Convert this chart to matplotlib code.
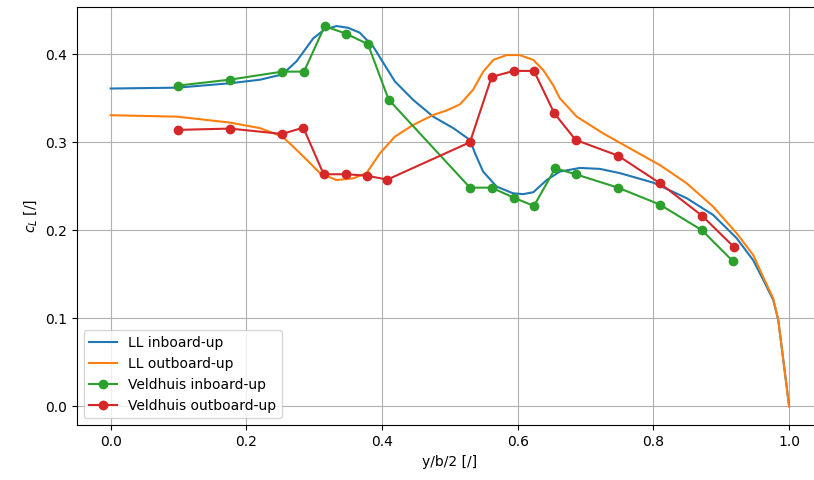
import matplotlib
matplotlib.use("Agg")
import matplotlib.pyplot as plt

# Lifting-line spanwise lift distributions
ll_in_x = [0.0, 0.0987, 0.176, 0.22, 0.253, 0.274, 0.2986, 0.315, 0.333, 0.35, 0.367,
           0.387, 0.402, 0.419, 0.446, 0.4755, 0.505, 0.5296, 0.537, 0.549, 0.569,
           0.593, 0.608, 0.623, 0.6426, 0.662, 0.6917, 0.721, 0.751, 0.80, 0.849,
           0.888, 0.9226, 0.947, 0.962, 0.9766, 0.984, 1.0]
ll_in_y = [0.361, 0.362, 0.367, 0.371, 0.377, 0.392, 0.418, 0.428, 0.432, 0.430, 0.4245,
           0.4086, 0.390, 0.369, 0.348, 0.329, 0.316, 0.3026, 0.2875, 0.2666, 0.2495,
           0.242, 0.241, 0.2432, 0.257, 0.2666, 0.2708, 0.2697, 0.2648, 0.254, 0.2364,
           0.2174, 0.191, 0.166, 0.1435, 0.1208, 0.098, 0.0]

ll_out_x = [0.0, 0.0987, 0.176, 0.22, 0.253, 0.269, 0.289, 0.3085, 0.333, 0.3576, 0.377,
            0.397, 0.419, 0.446, 0.4755, 0.495, 0.5148, 0.534, 0.549, 0.564, 0.5836,
            0.603, 0.623, 0.6376, 0.652, 0.662, 0.687, 0.726, 0.770, 0.8096, 0.849, 0.888,
            0.9226, 0.947, 0.962, 0.9766, 0.984, 1.0]
ll_out_y = [0.3307, 0.329, 0.3223, 0.316, 0.3064, 0.295, 0.28, 0.2648, 0.257, 0.259, 0.2648,
            0.2875, 0.3064, 0.3197, 0.331, 0.336, 0.343, 0.3594, 0.380, 0.3935, 0.399,
            0.399, 0.3935, 0.382, 0.365, 0.350, 0.329, 0.310, 0.291, 0.274, 0.2534, 0.2268,
            0.1966, 0.172, 0.1465, 0.1225, 0.098, 0.0]

# Veldhuis experimental data
vh_in_x = [0.0987, 0.1758, 0.2529, 0.2849, 0.3154, 0.3468, 0.3792, 0.4097, 0.5296,
           0.5615, 0.5940, 0.6239, 0.6553, 0.6853, 0.7477, 0.8096, 0.8715, 0.9167]
vh_in_y = [0.3643, 0.3711, 0.3802, 0.3802, 0.4318, 0.4234, 0.4114, 0.3484, 0.2484,
           0.2484, 0.2370, 0.2276, 0.2705, 0.2636, 0.2484, 0.2291, 0.2000, 0.1651]

vh_out_x = [0.0987, 0.1758, 0.2529, 0.2839, 0.3139, 0.3468, 0.3777, 0.4077, 0.5296,
            0.5615, 0.5940, 0.6239, 0.6538, 0.6853, 0.7477, 0.8096, 0.8715, 0.9186]
vh_out_y = [0.3140, 0.3155, 0.3094, 0.3166, 0.2636, 0.2636, 0.2620, 0.2575, 0.3000,
            0.3742, 0.3810, 0.3810, 0.3330, 0.3026, 0.2848, 0.2534, 0.2166, 0.1810]

fig = plt.figure(figsize=(8.14, 4.8), dpi=100)
ax = fig.add_axes([0.0943, 0.114, 0.9168, 0.871])

ax.plot(ll_in_x, ll_in_y, color="tab:blue", label="LL inboard-up")
ax.plot(ll_out_x, ll_out_y, color="tab:orange", label="LL outboard-up")
ax.plot(vh_in_x, vh_in_y, "-o", color="tab:green", label="Veldhuis inboard-up")
ax.plot(vh_out_x, vh_out_y, "-o", color="tab:red", label="Veldhuis outboard-up")

ax.set_xlim(-0.05, 1.05)
ax.set_ylim(-0.0216, 0.4534)
ax.set_xlabel("y/b/2 [/]")
ax.set_ylabel("$c_L$ [/]")
ax.grid(True)
ax.legend(loc="lower left")

fig.savefig("out.png", dpi=100)
